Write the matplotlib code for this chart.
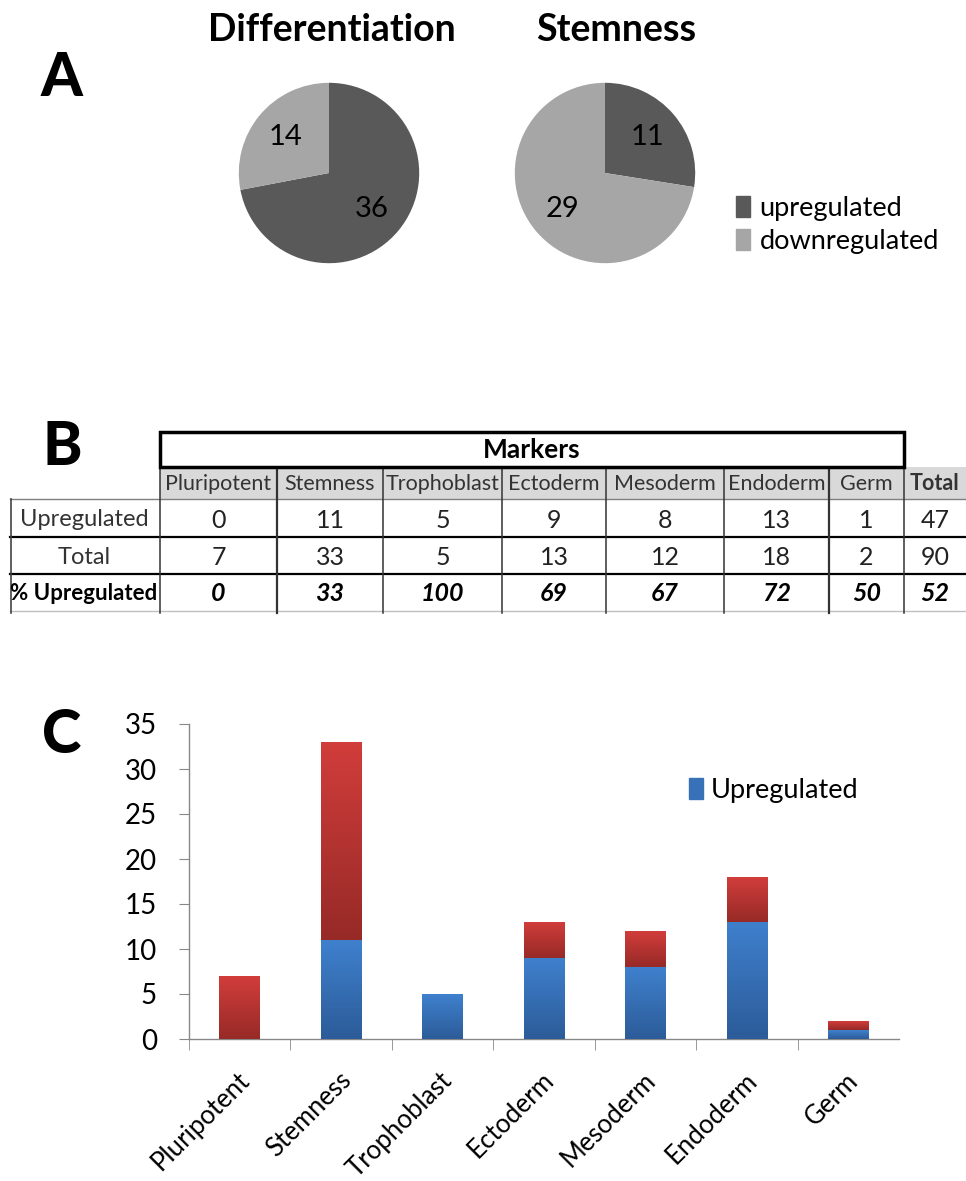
import numpy as np
import matplotlib
matplotlib.use("Agg")
import matplotlib.pyplot as plt
from matplotlib.patches import Rectangle, Patch
from matplotlib.transforms import ScaledTranslation
from matplotlib.colors import LinearSegmentedColormap

plt.rcParams['font.family'] = ['Lato', 'DejaVu Sans']

# ---- data ----
pie_labels = ['upregulated', 'downregulated']
diff_values = [36, 14]
stem_values = [11, 29]

categories = ['Pluripotent', 'Stemness', 'Trophoblast', 'Ectoderm', 'Mesoderm', 'Endoderm', 'Germ']
upregulated = [0, 11, 5, 9, 8, 13, 1]
totals = [7, 33, 5, 13, 12, 18, 2]
pct_upregulated = [0, 33, 100, 69, 67, 72, 50]
total_up = 47
total_all = 90
total_pct = 52

# ---- layout (pixels) ----
W, H = 966, 1181
dark_grey = '#595959'
light_grey = '#a6a6a6'

fig = plt.figure(figsize=(W / 100, H / 100), dpi=100)

# overlay axes in pixel units for the table and the panel letters
ov = fig.add_axes([0, 0, 1, 1])
ov.set_xlim(0, W)
ov.set_ylim(H, 0)
ov.axis('off')

for letter, (lx, ly) in zip('ABC', [(62, 78), (62, 447), (62, 735)]):
    ov.text(lx, ly, letter, fontsize=43, fontweight='black', ha='center', va='center')

# ---- panel A: pies ----
def pie_axes(cx, cy, r):
    return fig.add_axes([(cx - r) / W, 1 - (cy + r) / H, 2 * r / W, 2 * r / H])

for vals, cx, title in [(diff_values, 329, 'Differentiation'), (stem_values, 605, 'Stemness')]:
    ax = pie_axes(cx, 173, 92)
    tot = sum(vals)
    wedges, texts, autotexts = ax.pie(vals, colors=[dark_grey, light_grey], startangle=90,
                                      counterclock=False, radius=1,
                                      autopct=lambda p, t=tot: '%d' % round(p * t / 100),
                                      pctdistance=0.62, textprops={'fontsize': 21, 'color': 'black'})
    ax.set_xlim(-1.02, 1.02)
    ax.set_ylim(-1.02, 1.02)
    ov.text(cx + 3 if title == 'Differentiation' else cx + 11, 30, title, fontsize=27,
            fontweight='bold', ha='center', va='center')

handles = [Patch(color=dark_grey), Patch(color=light_grey)]
fig.legend(handles, pie_labels, loc='center left', bbox_to_anchor=(712 / W, 1 - 225 / H),
           frameon=False, fontsize=19.5, handlelength=0.5, handleheight=0.8,
           handletextpad=0.35, labelspacing=0.3)

# ---- panel B: table ----
col_edges = [160, 277, 383, 502, 606, 724, 829, 904, 966]
row_edges = [467, 499, 537, 574, 611]
label_x = 84

ov.add_patch(Rectangle((160, row_edges[0]), W - 160, row_edges[1] - row_edges[0],
                       facecolor='#d9d9d9', edgecolor='none', zorder=1))
ov.add_patch(Rectangle((160, 432), 904 - 160, 35, facecolor='white', edgecolor='black',
                       linewidth=2.5, zorder=3))
ov.text((160 + 904) / 2, 450, 'Markers', fontsize=19, fontweight='bold', ha='center', va='center',
        zorder=4)

ov.plot([10, W], [row_edges[1]] * 2, color='#7f7f7f', lw=1, zorder=2)
for yy in row_edges[2:4]:
    ov.plot([10, W], [yy, yy], color='black', lw=1.6, zorder=2)
ov.plot([10, W], [row_edges[4]] * 2, color='#bfbfbf', lw=1, zorder=2)
ov.plot([11, 11], [row_edges[1], row_edges[4] + 2], color='#444444', lw=1.2, zorder=2)
for xx in col_edges[:-1]:
    lw = 1.6 if xx in (277, 829) else 1.1
    ov.plot([xx, xx], [row_edges[0], row_edges[4] + 2], color='#333333', lw=lw, zorder=2)

header_labels = categories + ['Total']
row_up = upregulated + [total_up]
row_tot = totals + [total_all]
row_pct = pct_upregulated + [total_pct]
ymid = [(row_edges[i] + row_edges[i + 1]) / 2 for i in range(4)]
for j, name in enumerate(header_labels):
    xc = (col_edges[j] + col_edges[j + 1]) / 2
    ov.text(xc, ymid[0] + 1, name, fontsize=15.5, ha='center', va='center', color='#333333',
            fontweight='bold' if name == 'Total' else 'normal', zorder=4)
    ov.text(xc, ymid[1] + 2, str(row_up[j]), fontsize=18, ha='center', va='center', color='#222222')
    ov.text(xc, ymid[2] + 2, str(row_tot[j]), fontsize=18, ha='center', va='center', color='#222222')
    ov.text(xc, ymid[3] + 1, str(row_pct[j]), fontsize=18, ha='center', va='center', color='black',
            fontweight='bold', fontstyle='italic')
ov.text(label_x, ymid[1] + 2, 'Upregulated', fontsize=17, ha='center', va='center', color='#333333')
ov.text(label_x, ymid[2] + 2, 'Total', fontsize=17, ha='center', va='center', color='#333333')
ov.text(label_x, ymid[3] + 1, '% Upregulated', fontsize=16, ha='center', va='center',
        fontweight='bold', color='black')

# ---- panel C: stacked bars ----
axc = fig.add_axes([189 / W, 1 - 1039 / H, 710 / W, 315 / H])
x = np.arange(len(categories))
remaining = [t - u for t, u in zip(totals, upregulated)]
bars_up = axc.bar(x, upregulated, width=0.4, color='#3771b8', zorder=2)
bars_rest = axc.bar(x, remaining, width=0.4, bottom=upregulated, color='#b8332f', zorder=2)

grad = np.linspace(0, 1, 64).reshape(-1, 1)
cm_blue = LinearSegmentedColormap.from_list('b', ['#2c5c99', '#3f80cd'])
cm_red = LinearSegmentedColormap.from_list('r', ['#972a27', '#d13d3b'])
for bars, cm in [(bars_up, cm_blue), (bars_rest, cm_red)]:
    for b in bars:
        if b.get_height() <= 0:
            continue
        x0, y0 = b.get_x(), b.get_y()
        im = axc.imshow(grad, cmap=cm, aspect='auto', origin='lower', zorder=3,
                        extent=[x0, x0 + b.get_width(), y0, y0 + b.get_height()])
        im.set_clip_path(b)

axc.set_xlim(-0.5, len(categories) - 0.5)
axc.set_ylim(0, 35)
axc.set_yticks(range(0, 36, 5))
axc.tick_params(axis='y', length=7, color='#888888', labelsize=20, pad=16)
axc.set_xticks(x)
axc.set_xticklabels(categories)
axc.set_xticks(np.arange(-0.5, len(categories) - 0.5, 1), minor=True)
axc.tick_params(axis='x', which='major', length=0, labelsize=18.5, pad=27)
axc.tick_params(axis='x', which='minor', length=8, color='#888888')
offset = ScaledTranslation(0.06, 0, fig.dpi_scale_trans)
for lab in axc.get_xticklabels():
    lab.set_rotation(45)
    lab.set_ha('right')
    lab.set_va('center')
    lab.set_rotation_mode('anchor')
    lab.set_transform(lab.get_transform() + offset)
for s in ['top', 'right']:
    axc.spines[s].set_visible(False)
for s in ['left', 'bottom']:
    axc.spines[s].set_color('#888888')
    axc.spines[s].set_linewidth(1)

axc.legend([Patch(color='#3771b8')], ['Upregulated'], loc='center left',
           bbox_to_anchor=(0.67, 0.79), frameon=False, fontsize=19.5,
           handlelength=0.5, handleheight=0.8, handletextpad=0.3)

fig.savefig('out.png', dpi=100)
